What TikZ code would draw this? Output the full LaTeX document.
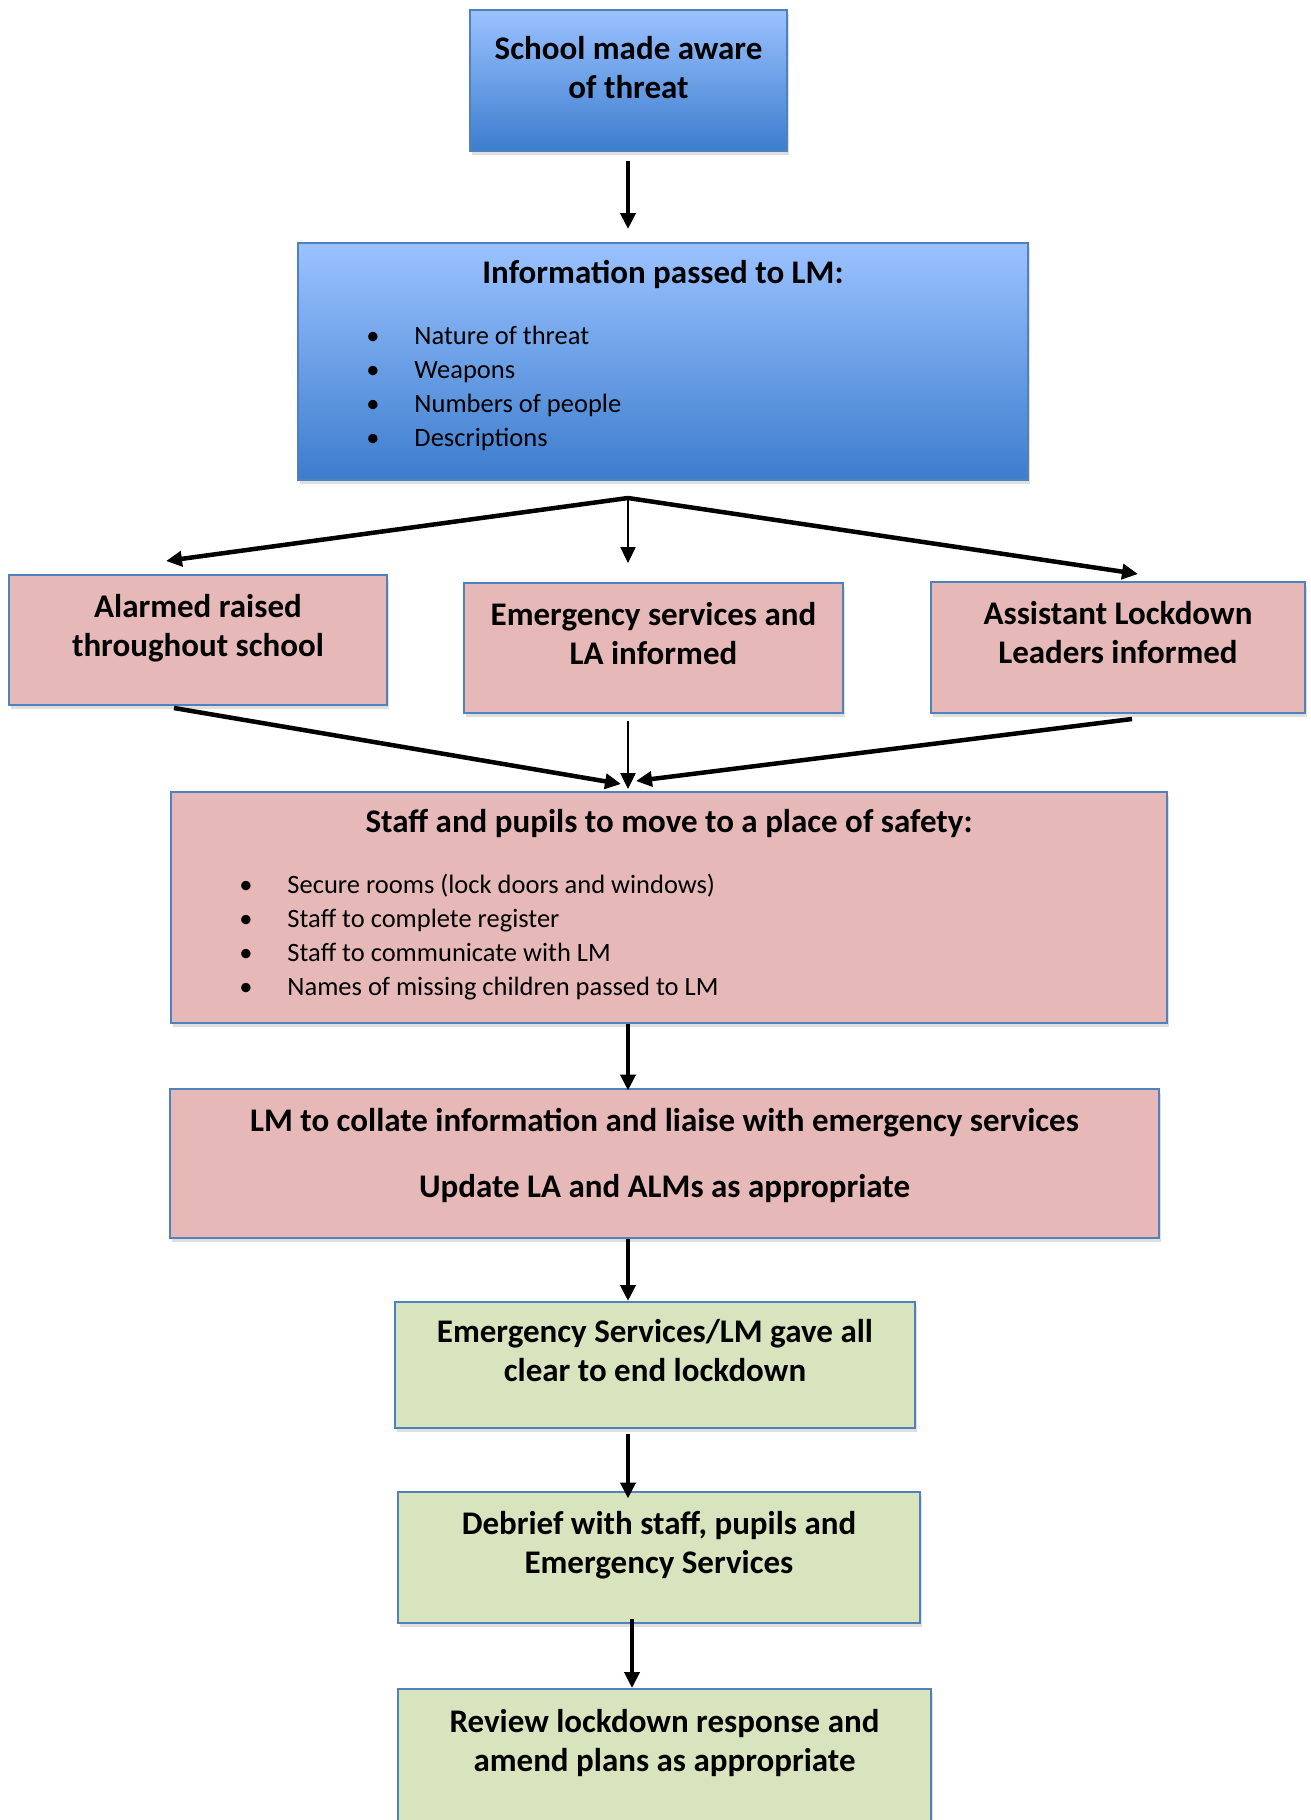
\documentclass[tikz,border=0pt]{standalone}
\usepackage{fontspec}
\setmainfont{Carlito}
\usetikzlibrary{arrows.meta,shadows}

\definecolor{boxline}{RGB}{79,129,189}
\definecolor{bluetop}{RGB}{155,194,255}
\definecolor{bluebot}{RGB}{60,125,205}
\definecolor{pinkfill}{RGB}{230,184,183}
\definecolor{greenfill}{RGB}{215,228,189}

\newcommand{\listfont}{\fontsize{10.6}{13.6}\selectfont\mdseries}
\newcommand{\bul}{\hspace*{23.4pt}\makebox[19.2pt][l]{\textbullet}}

\tikzset{
  box/.style={draw=boxline, line width=0.8pt, align=center, inner sep=4pt,
    font=\fontsize{13.2}{15.6}\selectfont\bfseries,
    drop shadow={opacity=0.25, shadow xshift=0.8pt, shadow yshift=-1.4pt}},
  lift/.style={text depth=11.8pt},
  bluebox/.style={box, top color=bluetop, bottom color=bluebot},
  pinkbox/.style={box, fill=pinkfill},
  greenbox/.style={box, fill=greenfill},
  arr/.style={line width=1.8pt, -{Triangle[length=6.4pt,width=6pt]}},
  thinarr/.style={arr, line width=1pt},
}

\begin{document}
\begin{tikzpicture}[x=0.4pt,y=-0.4pt]
  \useasboundingbox (0,0) rectangle (1311,1820);

  % top of the chart
  \node[bluebox, text depth=10.6pt, minimum width=126.8pt, minimum height=56.4pt] (aware) at (628.5,80.5)
    {School made aware\\of threat};
  \node[bluebox, align=left, text width=284pt, minimum width=292pt, minimum height=94.8pt] (info) at (663,361.5) {%
    \spaceskip=0pt \xspaceskip=0pt
    {\centering Information passed to LM:\par}\vspace{11pt}
    \listfont
    \bul Nature of threat\\
    \bul Weapons\\
    \bul Numbers of people\\
    \bul Descriptions\rule[-6.5pt]{0pt}{0pt}\par};

  % three actions
  \node[pinkbox, lift, minimum width=151.2pt, minimum height=52pt] (alarm) at (198,640)
    {Alarmed raised\\throughout school};
  \node[pinkbox, lift, minimum width=151.6pt, minimum height=52pt] (services) at (653.5,648)
    {Emergency services and\\LA informed};
  \node[pinkbox, lift, minimum width=149.6pt, minimum height=52.4pt] (assistants) at (1118,647.5)
    {Assistant Lockdown\\Leaders informed};

  \node[pinkbox, align=left, text width=390.4pt, minimum width=398.4pt, minimum height=92.4pt] (safety) at (669,907.5) {%
    \spaceskip=0pt \xspaceskip=0pt
    {\centering Staff and pupils to move to a place of safety:\par}\vspace{11pt}
    \listfont
    \bul Secure rooms (lock doors and windows)\\
    \bul Staff to complete register\\
    \bul Staff to communicate with LM\\
    \bul Names of missing children passed to LM\rule[-4.2pt]{0pt}{0pt}\par};
  \node[pinkbox, text depth=8.8pt, minimum width=395.6pt, minimum height=59.6pt] (liaise) at (664.5,1163.5)
    {LM to collate information and liaise with emergency services\\[10.8pt]Update LA and ALMs as appropriate};

  % end of lockdown
  \node[greenbox, lift, minimum width=208pt, minimum height=50.4pt] (allclear) at (655,1365)
    {Emergency Services/LM gave all\\clear to end lockdown};
  \node[greenbox, lift, minimum width=208.8pt, minimum height=52.4pt] (debrief) at (659,1557.5)
    {Debrief with staff, pupils and\\Emergency Services};
  \node[greenbox, text depth=15.4pt, minimum width=213.2pt, minimum height=56.4pt] (review) at (664.5,1759.5)
    {Review lockdown response and\\amend plans as appropriate};

  % connectors
  \coordinate (fork) at (628,498);
  \coordinate (alarmin) at (166,561);
  \coordinate (assistin) at (1138,574);
  \coordinate (alarmout) at (174,708);
  \coordinate (assistout) at (1132,719);
  \coordinate (mergel) at (621,784);
  \coordinate (merger) at (636,781);

  \draw[arr, shorten <=3.6pt, shorten >=5.2pt] (fork |- aware.south) -- (fork |- info.north);
  \draw[arr] (fork) -- (alarmin);
  \draw[arr] (fork) -- (assistin);
  \draw[thinarr, shorten >=7.6pt] (fork) -- (fork |- services.north);
  \draw[arr] (alarmout) -- (mergel);
  \draw[arr] (assistout) -- (merger);
  \draw[thinarr, shorten <=2.8pt, shorten >=0.8pt] (fork |- services.south) -- (fork |- safety.north);
  \draw[arr, shorten >=-1pt] (fork |- safety.south) -- (fork |- liaise.north);
  \draw[arr] (fork |- liaise.south) -- (fork |- allclear.north);
  \draw[arr, shorten <=2pt, shorten >=-3pt] (fork |- allclear.south) -- (fork |- debrief.north);
  \draw[arr, shorten <=-2pt] ([xshift=1.6pt]fork |- debrief.south) -- ([xshift=1.6pt]fork |- review.north);
\end{tikzpicture}
\end{document}
